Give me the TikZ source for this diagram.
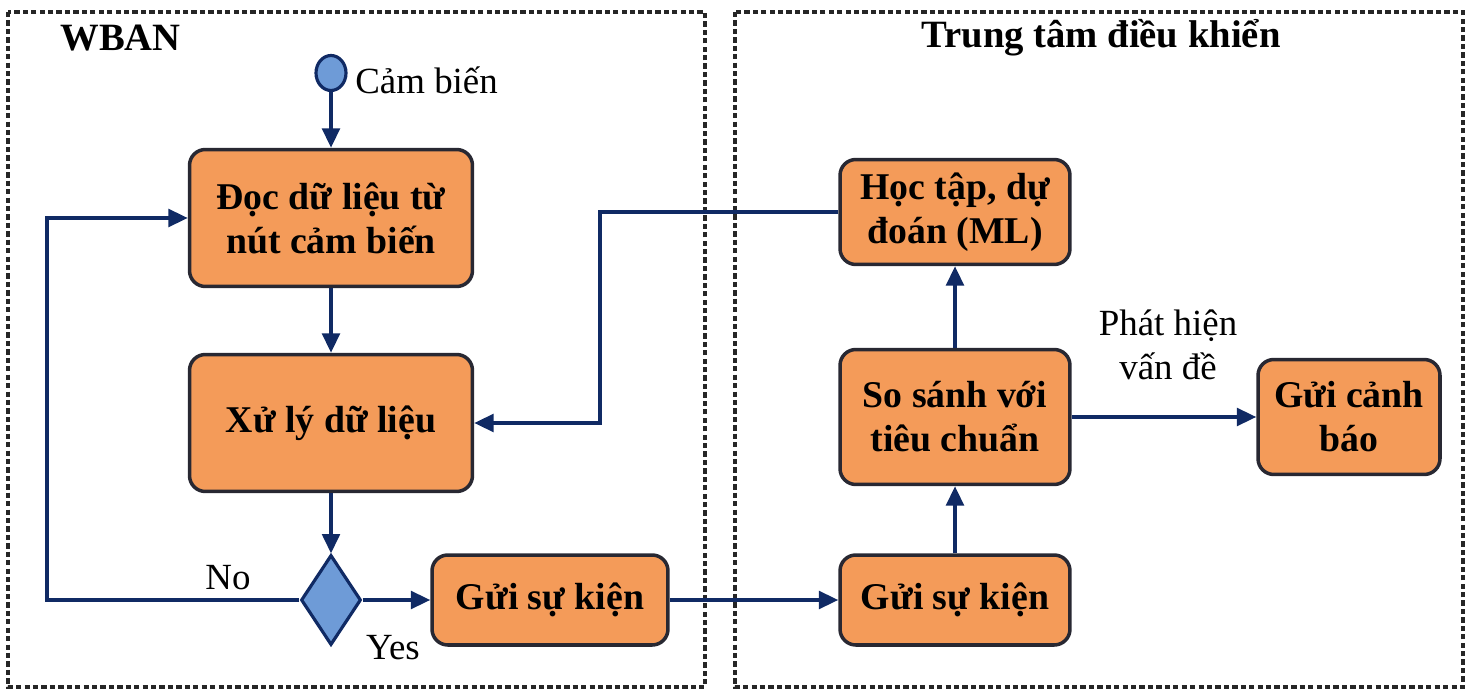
\documentclass[tikz,border=0pt]{standalone}
\usepackage{fontspec}
\setmainfont{Liberation Serif}
\usepackage{xcolor}
\usepackage{tikz}
\usetikzlibrary{positioning,shapes.geometric,arrows.meta}

\definecolor{boxfill}{RGB}{244,155,89}
\definecolor{navy}{RGB}{16,42,100}
\definecolor{dotblue}{RGB}{110,155,215}
\definecolor{edgegray}{RGB}{40,40,50}

\tikzset{
  stepbox/.style={draw=edgegray, line width=2pt, fill=boxfill, rounded corners=9pt,
    align=center, inner sep=0pt, font=\fontsize{21.5}{25}\selectfont\bfseries},
  flow/.style={draw=navy, line width=2pt, -{Triangle[length=11pt,width=10pt]}},
  region/.style={draw=black!85, line width=1.8pt, dash pattern=on 3pt off 1.8pt},
  tag/.style={font=\fontsize{21}{25}\selectfont, inner sep=0pt},
  heading/.style={font=\fontsize{22}{27}\selectfont\bfseries, inner sep=0pt},
}

\begin{document}
\begin{tikzpicture}[x=0.02cm,y=-0.02cm]
            \useasboundingbox (0,0) rectangle (1470,692);
            % the two regions
            \draw [region](8,12) rectangle (705,687);
            \draw [region](735,12) rectangle (1463,687);
            \node [heading, anchor=west] (wban) at (60,38) {WBAN};
            \node [heading] (center) at (1101,38) {Trung tâm điều khiển};

            % WBAN side
            \node [ellipse, draw=navy, line width=1.8pt, fill=dotblue, minimum width=0.6cm, minimum height=0.7cm] (sensor) at (331,73) {};
            \node [tag, anchor=west] (sensorlbl) at (355,80) {Cảm biến};
            \node [stepbox, minimum width=5.66cm, minimum height=2.74cm] (readbox) at (331,218) {Đọc dữ liệu từ\\nút cảm biến};
            \node [stepbox, minimum width=5.66cm, minimum height=2.74cm] (procbox) at (331,423) {Xử lý dữ liệu};
            \node [diamond, draw=navy, line width=1.8pt, fill=dotblue, inner sep=0pt, minimum width=1.2cm, minimum height=1.8cm] (check) at (331,600) {};
            \node [stepbox, minimum width=4.72cm, minimum height=1.8cm] (sendleft) at (550,600) {Gửi sự kiện};
            \node [tag] (nolbl) at (228,578) {No};
            \node [tag] (yeslbl) at (393,648) {Yes};

            % control center side
            \node [stepbox, minimum width=4.6cm, minimum height=1.8cm] (sendright) at (955,600) {Gửi sự kiện};
            \node [stepbox, minimum width=4.6cm, minimum height=2.7cm] (cmpbox) at (955,417) {So sánh với\\tiêu chuẩn};
            \node [stepbox, minimum width=4.6cm, minimum height=2.1cm] (mlbox) at (955,212) {Học tập, dự\\đoán (ML)};
            \node [stepbox, minimum width=3.64cm, minimum height=2.3cm] (alertbox) at (1349,417) {Gửi cảnh\\báo};
            \node [tag, align=center] (founddlbl) at (1168,345) {Phát hiện\\vấn đề};

            % connectors
            \coordinate (backx) at (47,600);
            \coordinate (mlx) at (600,212);
            \draw [flow](sensor) -- (readbox);
            \draw [flow](readbox) -- (procbox);
            \draw [flow](procbox) -- (check);
            \draw [flow](check.west) -- (backx) |- (readbox.west);
            \draw [flow](check.east) -- (sendleft.west);
            \draw [flow](sendleft.east) -- (sendright.west);
            \draw [flow](sendright) -- (cmpbox);
            \draw [flow](cmpbox) -- (mlbox);
            \draw [flow](mlbox.west) -- (mlx) |- (procbox.east);
            \draw [flow](cmpbox.east) -- (alertbox.west);
\end{tikzpicture}
\end{document}
